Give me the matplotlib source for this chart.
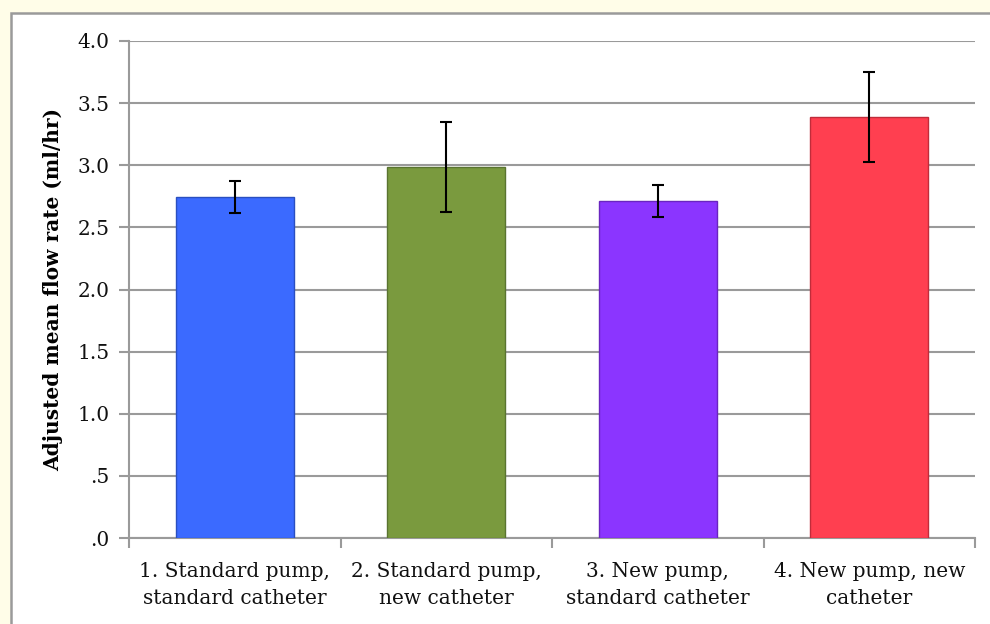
import matplotlib
matplotlib.use("Agg")
import matplotlib.pyplot as plt
from matplotlib.patches import Rectangle

categories = ["1. Standard pump,\nstandard catheter", "2. Standard pump,\nnew catheter",
              "3. New pump,\nstandard catheter", "4. New pump, new\ncatheter"]
values = [2.745, 2.985, 2.715, 3.39]
errors = [0.13, 0.36, 0.13, 0.36]
colors = ["#3B6AFF", "#7A9A3E", "#8B35FF", "#FF3F50"]
edges = ["#2A4FC0", "#5A7430", "#6A25C0", "#C02C3A"]
yticks = [0, 0.5, 1.0, 1.5, 2.0, 2.5, 3.0, 3.5, 4.0]
yticklabels = [".0", ".5", "1.0", "1.5", "2.0", "2.5", "3.0", "3.5", "4.0"]

FONT = "DejaVu Serif"

fig = plt.figure(figsize=(9.9, 6.24), dpi=100)
fig.patch.set_facecolor("#FFFDE8")
frame = Rectangle((11/990, -0.05), 1.1, (624-13)/624 + 0.05, transform=fig.transFigure,
                  facecolor="white", edgecolor="#9A9A9A", linewidth=1.8, zorder=-10)
fig.add_artist(frame)

ax = fig.add_axes([129/990, 86/624, 846/990, 497/624])
ax.set_zorder(5)
ax.set_facecolor("none")
x = list(range(len(categories)))
ax.bar(x, values, width=0.56, color=colors, edgecolor=edges, linewidth=1.0, zorder=3)
ax.errorbar(x, values, yerr=errors, fmt="none", ecolor="black", elinewidth=1.5,
            capsize=4, capthick=1.5, zorder=4)

ax.set_xlim(-0.5, 3.5)
ax.set_ylim(0, 4.0)
ax.set_yticks(yticks)
ax.set_yticklabels(yticklabels)
ax.yaxis.grid(True, color="#9A9A9A", linewidth=1.5, zorder=1)
ax.set_axisbelow(True)

ax.set_xticks([-0.5, 0.5, 1.5, 2.5, 3.5])
ax.set_xticklabels([])
ax.set_xticks(x, minor=True)
ax.set_xticklabels(categories, minor=True)
ax.tick_params(axis="x", which="minor", length=0, pad=17)
ax.tick_params(axis="x", which="major", length=7, color="#9A9A9A", width=1.5)
ax.tick_params(axis="y", length=7, color="#9A9A9A", width=1.5, pad=7)

for lab in ax.get_xticklabels(minor=True) + ax.get_yticklabels():
    lab.set_fontfamily(FONT)
    lab.set_fontsize(14.5)
    lab.set_color("#111111")
for lab in ax.get_xticklabels(minor=True):
    lab.set_linespacing(1.55)

for s in ["top", "right"]:
    ax.spines[s].set_visible(False)
for s in ["left", "bottom"]:
    ax.spines[s].set_color("#9A9A9A")
    ax.spines[s].set_linewidth(1.5)

ax.set_ylabel("Adjusted mean flow rate (ml/hr)", fontfamily=FONT,
              fontweight="bold", fontsize=14.5, labelpad=10)

fig.savefig("out.png", dpi=100, facecolor=fig.get_facecolor())
